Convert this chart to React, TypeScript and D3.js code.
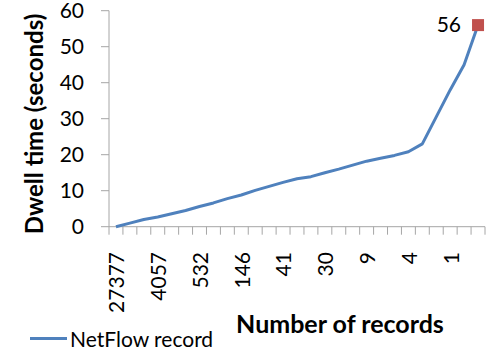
import React from "react";
import * as d3 from "d3";

// Dwell time per record bucket, ordered from most to fewest records
const dwellSeconds: number[] = [
  0, 1.0, 2.0, 2.7, 3.6, 4.5, 5.6, 6.6, 7.8, 8.8,
  10.1, 11.2, 12.3, 13.3, 13.9, 15.0, 16.0, 17.1, 18.2, 19.0,
  19.8, 20.8, 23.0, 30.5, 38.0, 45.0, 56,
];
// Record counts shown on the category axis (every third bucket)
const recordLabels: string[] = ["27377", "4057", "532", "146", "41", "30", "9", "4", "1"];
const labelEvery = 3;
const yTicks: number[] = [0, 10, 20, 30, 40, 50, 60];
const seriesName = "NetFlow record";

const W = 493;
const H = 350;
const FONT = "Lato, 'Liberation Sans', sans-serif";

export default function App() {
  const left = 109;
  const right = 485;
  const top = 10.7;
  const bottom = 226.7;

  const idx = d3.range(dwellSeconds.length);
  const x = d3.scaleBand<number>().domain(idx).range([left, right]).paddingInner(0).paddingOuter(0);
  const y = d3.scaleLinear().domain([0, 60]).range([bottom, top]);

  const cx = (i: number) => (x(i) as number) + x.bandwidth() / 2;

  const line = d3
    .line<number>()
    .x((_, i) => cx(i))
    .y((d) => y(d));

  const lastIdx = dwellSeconds.length - 1;
  const lastX = cx(lastIdx);
  const lastY = y(dwellSeconds[lastIdx]);

  const boundaries = d3.range(idx.length + 1).map((i) => left + i * x.bandwidth());
  const axisColor = "#A6A6A6";

  return (
    <svg
      width={W}
      height={H}
      style={{ position: "absolute", left: 0, top: 0, background: "#fff" }}
      fontFamily={FONT}
    >
      {/* y axis */}
      <line x1={left} x2={left} y1={top} y2={bottom} stroke={axisColor} strokeWidth={1} />
      {yTicks.map((t) => (
        <g key={t}>
          <line x1={left - 8} x2={left} y1={y(t)} y2={y(t)} stroke={axisColor} strokeWidth={1} />
          <text x={84} y={y(t)} dy="0.35em" textAnchor="end" fontSize={21} fill="#000">
            {t}
          </text>
        </g>
      ))}

      {/* x axis */}
      <line x1={left} x2={right} y1={bottom} y2={bottom} stroke={axisColor} strokeWidth={1} />
      {boundaries.map((bx, i) => (
        <line key={i} x1={bx} x2={bx} y1={bottom} y2={bottom + 8} stroke={axisColor} strokeWidth={1} />
      ))}
      {recordLabels.map((lab, k) => (
        <text
          key={lab}
          transform={`translate(${cx(k * labelEvery) + 1},252) rotate(-90)`}
          textAnchor="end"
          dy="0.35em"
          fontSize={21}
          fill="#000"
        >
          {lab}
        </text>
      ))}

      {/* series */}
      <path d={line(dwellSeconds) ?? ""} fill="none" stroke="#4F81BD" strokeWidth={3} strokeLinejoin="round" />
      <rect x={lastX - 6} y={lastY - 6} width={12} height={12} fill="#C0504D" />
      <text x={461} y={lastY} dy="0.35em" textAnchor="end" fontSize={21} fill="#000">
        {dwellSeconds[lastIdx]}
      </text>

      {/* axis titles */}
      <text
        transform={`translate(35,124) rotate(-90)`}
        textAnchor="middle"
        dy="0.35em"
        fontSize={24}
        fontWeight="bold"
        fill="#000"
      >
        Dwell time (seconds)
      </text>
      <text x={340} y={324} dy="0.35em" textAnchor="middle" fontSize={25} fontWeight="bold" fill="#000">
        Number of records
      </text>

      {/* legend */}
      <line x1={30} x2={67} y1={338.5} y2={338.5} stroke="#4F81BD" strokeWidth={3} />
      <text x={70} y={339.5} dy="0.35em" fontSize={21} fill="#000">
        {seriesName}
      </text>
    </svg>
  );
}
